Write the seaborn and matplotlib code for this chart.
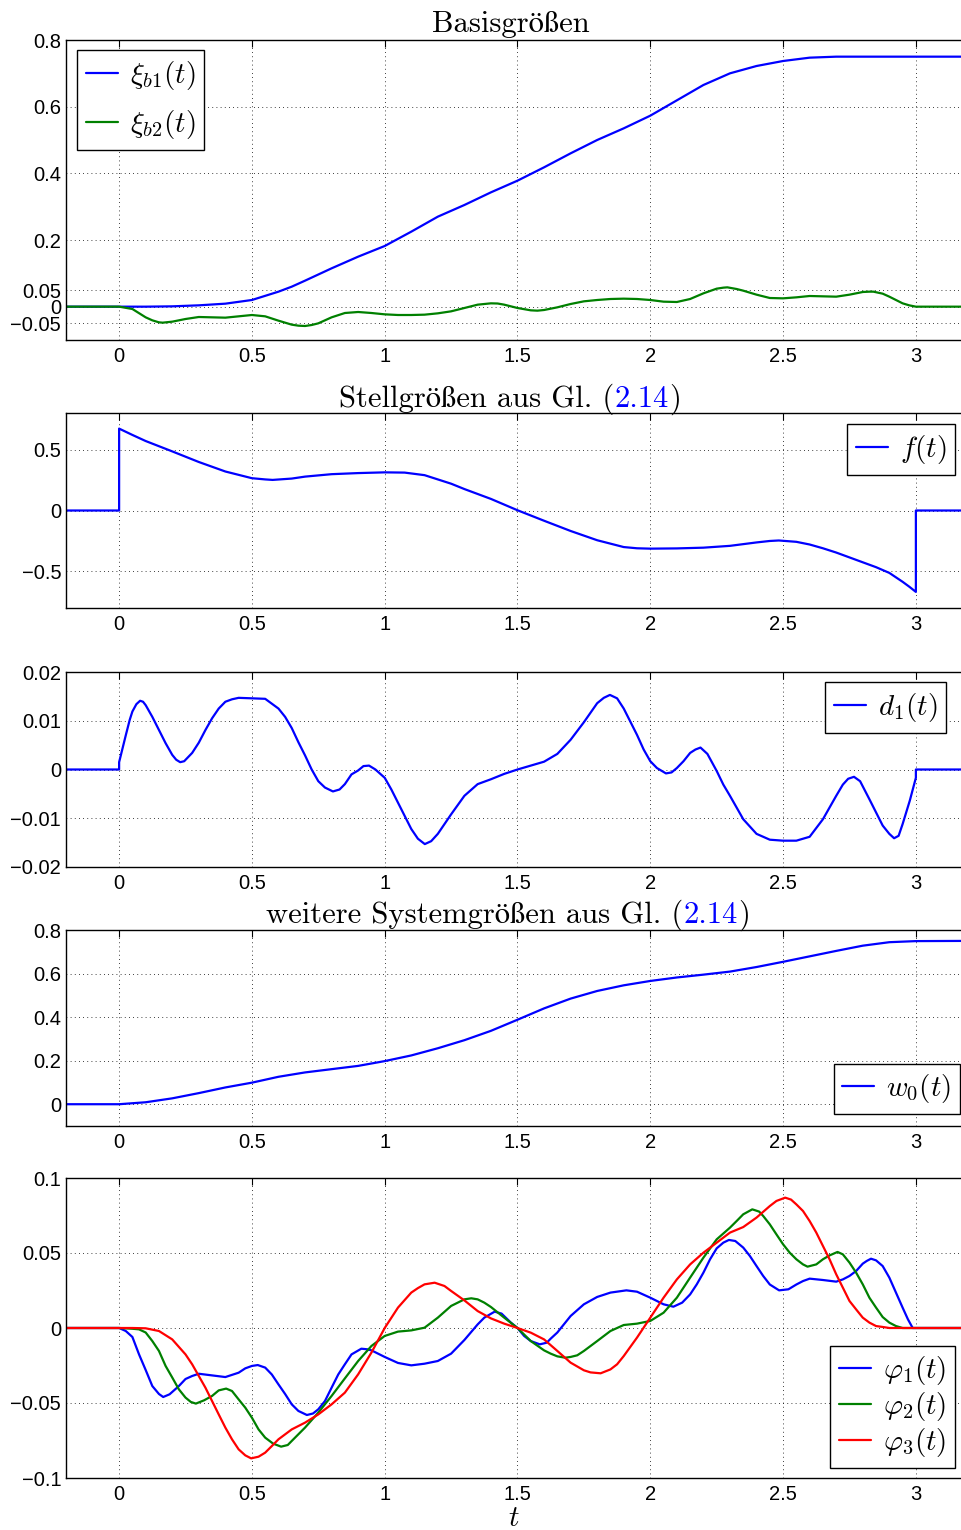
import matplotlib
matplotlib.use("Agg")
import matplotlib.pyplot as plt
import seaborn as sns
from matplotlib.ticker import FixedLocator, FixedFormatter

W_PX, H_PX, DPI = 962, 1530, 100

# ---------------------------------------------------------------- data
x_ticks = [0, 0.5, 1, 1.5, 2, 2.5, 3]
x_tick_labels = ["0", "0.5", "1", "1.5", "2", "2.5", "3"]

# Basisgrößen
xi_b1_t = [-0.2, 0.0, 0.1, 0.2, 0.3, 0.4, 0.5, 0.6, 0.65, 0.7, 0.8, 0.9, 1.0, 1.1, 1.2,
           1.3, 1.4, 1.5, 1.6, 1.7, 1.8, 1.9, 2.0, 2.1, 2.2, 2.3, 2.4, 2.5, 2.6, 2.7, 3.2]
xi_b1 = [0.0, 0.0, 0.0, 0.001, 0.004, 0.009, 0.02, 0.045, 0.06, 0.078, 0.115, 0.15,
         0.182, 0.225, 0.27, 0.305, 0.343, 0.378, 0.418, 0.46, 0.50, 0.535, 0.573, 0.619,
         0.665, 0.70, 0.722, 0.737, 0.747, 0.75, 0.75]

xi_b2_t = [-0.2, 0.0, 0.05, 0.10, 0.125, 0.15, 0.164, 0.20, 0.25, 0.30, 0.35, 0.40, 0.45,
           0.50, 0.55, 0.60, 0.65, 0.675, 0.70, 0.725, 0.75, 0.80, 0.85, 0.90, 0.95, 1.00,
           1.05, 1.10, 1.15, 1.20, 1.25, 1.30, 1.35, 1.40, 1.425, 1.45, 1.50, 1.55, 1.575,
           1.60, 1.65, 1.70, 1.75, 1.80, 1.85, 1.90, 1.95, 2.00, 2.05, 2.10, 2.15, 2.20,
           2.25, 2.275, 2.29, 2.325, 2.35, 2.40, 2.45, 2.50, 2.55, 2.60, 2.65, 2.70, 2.75,
           2.80, 2.825, 2.84, 2.875, 2.90, 2.925, 2.95, 2.975, 3.0, 3.2]
xi_b2 = [0.0, 0.0, -0.007, -0.032, -0.041, -0.047, -0.048, -0.045, -0.037, -0.031,
         -0.032, -0.033, -0.029, -0.025, -0.029, -0.042, -0.054, -0.057, -0.058, -0.055,
         -0.05, -0.032, -0.019, -0.016, -0.019, -0.023, -0.025, -0.025, -0.024, -0.02,
         -0.014, -0.004, 0.006, 0.010, 0.0095, 0.006, -0.004, -0.011, -0.012, -0.01,
         -0.002, 0.008, 0.016, 0.02, 0.023, 0.024, 0.023, 0.02, 0.015, 0.014, 0.023, 0.04,
         0.054, 0.057, 0.058, 0.053, 0.048, 0.036, 0.026, 0.025, 0.028, 0.032, 0.031,
         0.030, 0.036, 0.044, 0.045, 0.045, 0.039, 0.030, 0.02, 0.01, 0.004, 0.0, 0.0]

# Stellgröße f(t)
f_t = [-0.2, 0.0, 0.0, 0.05, 0.1, 0.2, 0.3, 0.4, 0.5, 0.55, 0.578, 0.65, 0.7, 0.8, 0.9,
       1.0, 1.075, 1.15, 1.2, 1.25, 1.3, 1.4, 1.5, 1.6, 1.7, 1.8, 1.9, 1.95, 2.0, 2.1, 2.2,
       2.3, 2.4, 2.45, 2.484, 2.55, 2.6, 2.65, 2.7, 2.75, 2.8, 2.85, 2.9, 2.95, 2.975, 3.0,
       3.0, 3.2]
f_val = [0.0, 0.0, 0.672, 0.62, 0.57, 0.485, 0.398, 0.32, 0.265, 0.255, 0.251, 0.262,
         0.278, 0.298, 0.307, 0.313, 0.311, 0.29, 0.255, 0.22, 0.176, 0.095, 0.002, -0.084,
         -0.168, -0.244, -0.30, -0.31, -0.313, -0.311, -0.305, -0.29, -0.262, -0.25,
         -0.246, -0.257, -0.279, -0.31, -0.345, -0.385, -0.425, -0.465, -0.512, -0.585,
         -0.625, -0.668, 0.0, 0.0]

# d1(t)
d1_t = [-0.2, 0.0, 0.0, 0.01, 0.025, 0.04, 0.05, 0.065, 0.079, 0.09, 0.10, 0.125, 0.15,
        0.175, 0.20, 0.215, 0.23, 0.245, 0.275, 0.30, 0.325, 0.35, 0.375, 0.40, 0.425,
        0.45, 0.50, 0.55, 0.60, 0.625, 0.65, 0.675, 0.70, 0.725, 0.75, 0.775, 0.805, 0.83,
        0.85, 0.875, 0.90, 0.92, 0.941, 0.965, 1.00, 1.025, 1.05, 1.075, 1.10, 1.125,
        1.151, 1.175, 1.20, 1.225, 1.25, 1.30, 1.35, 1.40, 1.45, 1.50, 1.55, 1.60, 1.65,
        1.70, 1.75, 1.80, 1.825, 1.848, 1.875, 1.90, 1.925, 1.95, 1.975, 2.00, 2.025,
        2.059, 2.08, 2.10, 2.125, 2.15, 2.17, 2.189, 2.215, 2.25, 2.275, 2.30, 2.35, 2.40,
        2.45, 2.50, 2.55, 2.60, 2.65, 2.70, 2.725, 2.745, 2.767, 2.79, 2.825, 2.85, 2.875,
        2.90, 2.918, 2.935, 2.95, 2.977, 3.0, 3.0, 3.2]
d1_val = [0.0, 0.0, 0.0015, 0.0037, 0.007, 0.0102, 0.0119, 0.0134, 0.0141, 0.0139,
          0.0132, 0.0108, 0.0081, 0.0054, 0.003, 0.002, 0.0015, 0.0017, 0.0034, 0.0055,
          0.0081, 0.0105, 0.0125, 0.0139, 0.0144, 0.0147, 0.0146, 0.0145, 0.0125, 0.0108,
          0.0085, 0.0056, 0.0029, 0.0, -0.0024, -0.0037, -0.0045, -0.0041, -0.003, -0.001,
          -0.0002, 0.0007, 0.0008, 0.0, -0.0017, -0.0041, -0.0068, -0.0095, -0.0122,
          -0.0142, -0.0153, -0.0147, -0.0132, -0.0112, -0.0092, -0.0054, -0.003, -0.002,
          -0.0009, 0.0, 0.0008, 0.0016, 0.0032, 0.0061, 0.0097, 0.0136, 0.0147, 0.0153,
          0.0146, 0.0125, 0.0098, 0.0071, 0.0041, 0.0017, 0.0003, -0.0008, -0.0006, 0.0003,
          0.0017, 0.0034, 0.0041, 0.0045, 0.0032, -0.0003, -0.0031, -0.0054, -0.0102,
          -0.0132, -0.0144, -0.0146, -0.0146, -0.0138, -0.0102, -0.0054, -0.0031, -0.0019,
          -0.0015, -0.0024, -0.0061, -0.0088, -0.0115, -0.0132, -0.0141, -0.0136, -0.0112,
          -0.0064, -0.0017, 0.0, 0.0]

# w0(t)
w0_t = [-0.2, 0.0, 0.1, 0.2, 0.3, 0.4, 0.5, 0.6, 0.7, 0.8, 0.9, 1.0, 1.1, 1.2, 1.3, 1.4,
        1.5, 1.6, 1.7, 1.8, 1.9, 2.0, 2.1, 2.2, 2.3, 2.4, 2.5, 2.6, 2.7, 2.8, 2.9, 3.0, 3.2]
w0_val = [0.0, 0.0, 0.009, 0.027, 0.051, 0.077, 0.099, 0.126, 0.146, 0.161, 0.176, 0.198,
          0.224, 0.257, 0.294, 0.337, 0.388, 0.44, 0.485, 0.52, 0.546, 0.566, 0.582, 0.595,
          0.609, 0.63, 0.654, 0.679, 0.704, 0.728, 0.744, 0.749, 0.75]

# Winkel phi_1..phi_3
phi1_t = [-0.2, 0.0, 0.025, 0.05, 0.075, 0.10, 0.125, 0.15, 0.166, 0.19, 0.225, 0.25,
          0.275, 0.30, 0.35, 0.40, 0.45, 0.475, 0.50, 0.522, 0.55, 0.575, 0.60, 0.625,
          0.65, 0.675, 0.707, 0.73, 0.75, 0.775, 0.80, 0.825, 0.85, 0.875, 0.912, 0.935,
          0.95, 1.00, 1.05, 1.10, 1.15, 1.20, 1.25, 1.30, 1.35, 1.375, 1.414, 1.44, 1.475,
          1.50, 1.525, 1.55, 1.584, 1.61, 1.625, 1.65, 1.70, 1.75, 1.80, 1.85, 1.91, 1.95,
          2.00, 2.025, 2.05, 2.087, 2.12, 2.15, 2.175, 2.20, 2.225, 2.25, 2.275, 2.296,
          2.32, 2.35, 2.375, 2.40, 2.425, 2.45, 2.485, 2.52, 2.55, 2.575, 2.60, 2.65, 2.70,
          2.725, 2.75, 2.775, 2.80, 2.815, 2.831, 2.85, 2.875, 2.90, 2.925, 2.95, 2.97,
          2.988, 3.2]
phi1 = [0.0, 0.0, -0.002, -0.006, -0.0176, -0.028, -0.0387, -0.044, -0.046, -0.0442,
        -0.0387, -0.034, -0.032, -0.0305, -0.0316, -0.0327, -0.0298, -0.0269, -0.0253,
        -0.0247, -0.0264, -0.031, -0.0376, -0.044, -0.0509, -0.0553, -0.058, -0.057,
        -0.0542, -0.0487, -0.0398, -0.031, -0.0242, -0.0176, -0.0138, -0.0142, -0.0149,
        -0.0193, -0.0233, -0.0249, -0.0238, -0.022, -0.0171, -0.008, 0.0024, 0.0069,
        0.0109, 0.0096, 0.0036, 0.0, -0.0053, -0.0087, -0.0109, -0.0098, -0.0071, -0.003,
        0.008, 0.0158, 0.0207, 0.0236, 0.0251, 0.0242, 0.0202, 0.018, 0.0158, 0.0142,
        0.0169, 0.0224, 0.0291, 0.0369, 0.0458, 0.0531, 0.0569, 0.0587, 0.058, 0.0536,
        0.048, 0.0413, 0.0347, 0.029, 0.0251, 0.0258, 0.029, 0.0313, 0.0329, 0.032,
        0.0309, 0.0324, 0.0347, 0.038, 0.0429, 0.0447, 0.0462, 0.0451, 0.0413, 0.0336,
        0.0236, 0.0136, 0.0058, 0.0, 0.0]

phi2_t = [-0.2, 0.0, 0.05, 0.075, 0.10, 0.125, 0.15, 0.175, 0.20, 0.225, 0.25, 0.27,
          0.289, 0.32, 0.35, 0.375, 0.403, 0.425, 0.45, 0.475, 0.50, 0.525, 0.55, 0.58,
          0.61, 0.635, 0.65, 0.70, 0.75, 0.80, 0.85, 0.90, 0.95, 1.00, 1.05, 1.10, 1.15,
          1.20, 1.25, 1.275, 1.30, 1.326, 1.35, 1.375, 1.40, 1.45, 1.50, 1.55, 1.60, 1.625,
          1.65, 1.68, 1.70, 1.725, 1.75, 1.80, 1.85, 1.90, 1.95, 2.00, 2.05, 2.10, 2.15,
          2.20, 2.25, 2.30, 2.325, 2.35, 2.384, 2.41, 2.425, 2.45, 2.475, 2.50, 2.525, 2.55,
          2.575, 2.592, 2.625, 2.65, 2.675, 2.705, 2.725, 2.75, 2.775, 2.80, 2.825, 2.85,
          2.875, 2.90, 2.925, 2.95, 3.2]
phi2 = [0.0, 0.0, -0.0005, -0.0009, -0.003, -0.0087, -0.0153, -0.0253, -0.033, -0.0409,
        -0.0464, -0.0493, -0.0504, -0.0482, -0.0453, -0.0416, -0.0404, -0.042, -0.0476,
        -0.0531, -0.0598, -0.0676, -0.0731, -0.0771, -0.0791, -0.078, -0.0753, -0.0664,
        -0.0564, -0.0453, -0.0336, -0.022, -0.012, -0.0053, -0.0024, -0.0016, 0.0002,
        0.0069, 0.0147, 0.0169, 0.0191, 0.0198, 0.0191, 0.0169, 0.014, 0.0069, 0.0,
        -0.0087, -0.0149, -0.0171, -0.0189, -0.0198, -0.0193, -0.0182, -0.0153, -0.0087,
        -0.002, 0.002, 0.0029, 0.0047, 0.0102, 0.0202, 0.0336, 0.0469, 0.0591, 0.0669,
        0.0713, 0.0758, 0.0791, 0.0776, 0.0747, 0.0691, 0.0624, 0.0558, 0.0502, 0.0458,
        0.0424, 0.0409, 0.0424, 0.0458, 0.0484, 0.0507, 0.0491, 0.0436, 0.0369, 0.0291,
        0.0202, 0.0136, 0.0073, 0.0036, 0.0013, 0.0, 0.0]

phi3_t = [-0.2, 0.0, 0.05, 0.10, 0.15, 0.20, 0.25, 0.275, 0.30, 0.325, 0.35, 0.375, 0.40,
          0.425, 0.45, 0.475, 0.497, 0.525, 0.55, 0.575, 0.60, 0.65, 0.70, 0.75, 0.80,
          0.85, 0.90, 0.95, 1.00, 1.05, 1.10, 1.125, 1.15, 1.188, 1.225, 1.25, 1.30, 1.35,
          1.40, 1.45, 1.50, 1.55, 1.60, 1.65, 1.70, 1.75, 1.775, 1.813, 1.85, 1.875, 1.90,
          1.95, 2.00, 2.05, 2.10, 2.15, 2.20, 2.25, 2.30, 2.35, 2.40, 2.45, 2.475, 2.508,
          2.53, 2.55, 2.575, 2.60, 2.625, 2.65, 2.675, 2.70, 2.725, 2.75, 2.775, 2.80,
          2.825, 2.85, 2.875, 2.90, 3.2]
phi3 = [0.0, 0.0, 0.0, -0.0002, -0.002, -0.0076, -0.0176, -0.0242, -0.032, -0.0398,
        -0.0487, -0.0576, -0.0664, -0.0742, -0.0809, -0.0849, -0.0869, -0.0858, -0.0831,
        -0.0787, -0.0742, -0.0676, -0.0631, -0.0576, -0.0509, -0.0431, -0.0309, -0.0164,
        0.0, 0.0136, 0.0236, 0.0266, 0.0291, 0.0302, 0.028, 0.0247, 0.0184, 0.0113,
        0.0064, 0.0029, 0.0, -0.0031, -0.0076, -0.0153, -0.0231, -0.0282, -0.0296,
        -0.0302, -0.0276, -0.0242, -0.0187, -0.0064, 0.0069, 0.0202, 0.0324, 0.0424,
        0.0502, 0.0569, 0.0636, 0.0673, 0.0736, 0.0813, 0.0847, 0.0869, 0.0856, 0.0824,
        0.078, 0.0713, 0.0636, 0.0547, 0.0458, 0.0358, 0.0269, 0.018, 0.0124, 0.0069,
        0.0036, 0.0013, 0.0007, 0.0, 0.0]

# tick values and labels of the five panels
y1_ticks = [-0.05, 0, 0.05, 0.2, 0.4, 0.6, 0.8]
y1_labels = ["\u22120.05", "0", "0.05", "0.2", "0.4", "0.6", "0.8"]
y2_ticks = [-0.5, 0, 0.5]
y2_labels = ["\u22120.5", "0", "0.5"]
y3_ticks = [-0.02, -0.01, 0, 0.01, 0.02]
y3_labels = ["\u22120.02", "\u22120.01", "0", "0.01", "0.02"]
y4_ticks = [0, 0.2, 0.4, 0.6, 0.8]
y4_labels = ["0", "0.2", "0.4", "0.6", "0.8"]
y5_ticks = [-0.1, -0.05, 0, 0.05, 0.1]
y5_labels = ["\u22120.1", "\u22120.05", "0", "0.05", "0.1"]

title1 = [("Basisgrößen", "black")]
title2 = [("Stellgrößen aus Gl. (", "black"), ("2.14", "blue"), (")", "black")]
title4 = [("weitere Systemgrößen aus Gl. (", "black"), ("2.14", "blue"), (")", "black")]

# ---------------------------------------------------------------- style
sns.set_theme(style="white", rc={
    "axes.edgecolor": "black", "axes.linewidth": 1.0,
    "text.color": "black", "axes.labelcolor": "black",
    "xtick.color": "black", "ytick.color": "black",
})
plt.rcParams["font.family"] = ["Liberation Sans", "DejaVu Sans"]
plt.rcParams["mathtext.fontset"] = "cm"
TITLE_FONT = ["cmr10", "STIXGeneral"]
BLUE, GREEN, RED = "#0000ff", "#008000", "#ff0000"
LW = 1.6
TICK_SIZE = 14.5
LEG_SIZE = 21

fig = plt.figure(figsize=(W_PX / DPI, H_PX / DPI), dpi=DPI)


def make_axes(top_px, bottom_px):
    return fig.add_axes([66 / W_PX, 1 - bottom_px / H_PX, 903 / W_PX,
                         (bottom_px - top_px) / H_PX])


def style_axes(ax, ylim, yticks, ylabels):
    ax.set_xlim(-0.2, 3.2)
    ax.set_ylim(*ylim)
    ax.xaxis.set_major_locator(FixedLocator(x_ticks))
    ax.xaxis.set_major_formatter(FixedFormatter(x_tick_labels))
    ax.yaxis.set_major_locator(FixedLocator(yticks))
    ax.yaxis.set_major_formatter(FixedFormatter(ylabels))
    ax.tick_params(direction="in", length=5, width=0.8, top=True, right=True,
                   labelsize=TICK_SIZE)
    ax.tick_params(axis="x", pad=5)
    ax.tick_params(axis="y", pad=3.5)
    ax.grid(True, color="black", linestyle=(0, (1, 4)), linewidth=0.6)
    ax.set_xlabel("")
    ax.set_ylabel("")
    for s in ax.spines.values():
        s.set_color("black")
        s.set_linewidth(1.0)


def line(ax, t, y, color, label):
    sns.lineplot(x=t, y=y, ax=ax, color=color, linewidth=LW, label=label,
                 estimator=None, sort=False)


def legend(ax, loc, anchor, spacing):
    leg = ax.legend(loc=loc, bbox_to_anchor=anchor, borderaxespad=0, fontsize=LEG_SIZE,
                    handlelength=1.1, handletextpad=0.4, borderpad=0.3,
                    labelspacing=spacing, fancybox=False, framealpha=1,
                    edgecolor="black")
    leg.get_frame().set_linewidth(1.0)


# panel 1: Basisgrößen
ax1 = make_axes(40, 340)
line(ax1, xi_b1_t, xi_b1, BLUE, r"$\xi_{b1}(t)$")
line(ax1, xi_b2_t, xi_b2, GREEN, r"$\xi_{b2}(t)$")
style_axes(ax1, (-0.1, 0.8), y1_ticks, y1_labels)
legend(ax1, "upper left", (11 / 903, 1 - 10 / 300), 0.56)

# panel 2: f(t)
ax2 = make_axes(413, 608)
line(ax2, f_t, f_val, BLUE, r"$f(t)$")
style_axes(ax2, (-0.8, 0.8), y2_ticks, y2_labels)
legend(ax2, "upper right", ((955 - 66) / 903, 1 - 11 / 195), 0.3)

# panel 3: d1(t)
ax3 = make_axes(672, 867)
line(ax3, d1_t, d1_val, BLUE, r"$d_1(t)$")
style_axes(ax3, (-0.02, 0.02), y3_ticks, y3_labels)
legend(ax3, "upper right", ((946 - 66) / 903, 1 - 10 / 195), 0.3)

# panel 4: w0(t)
ax4 = make_axes(930, 1126)
line(ax4, w0_t, w0_val, BLUE, r"$w_0(t)$")
style_axes(ax4, (-0.1, 0.8), y4_ticks, y4_labels)
legend(ax4, "lower right", ((960 - 66) / 903, 12 / 196), 0.3)

# panel 5: phi_1..phi_3
ax5 = make_axes(1178, 1478)
line(ax5, phi1_t, phi1, BLUE, r"$\varphi_1(t)$")
line(ax5, phi2_t, phi2, GREEN, r"$\varphi_2(t)$")
line(ax5, phi3_t, phi3, RED, r"$\varphi_3(t)$")
style_axes(ax5, (-0.1, 0.1), y5_ticks, y5_labels)
legend(ax5, "lower right", ((955 - 66) / 903, 10 / 300), 0.1)
ax5.set_xlabel(r"$t$", fontsize=21, va="baseline")
ax5.xaxis.set_label_coords((514 - 66) / 903, -(1526 - 1478) / 300)


def rich_title(parts, x_center_px, baseline_px, size=22):
    renderer = fig.canvas.get_renderer()
    texts = [fig.text(0, 0, s, color=c, fontsize=size, family=TITLE_FONT,
                      ha="left", va="baseline") for s, c in parts]
    widths = [t.get_window_extent(renderer).width for t in texts]
    x = x_center_px - sum(widths) / 2
    for t, w in zip(texts, widths):
        t.set_position((x / W_PX, 1 - baseline_px / H_PX))
        x += w


rich_title(title1, 511, 32)
rich_title(title2, 510, 407)
rich_title(title4, 508, 923)

fig.savefig("out.png", dpi=DPI)
